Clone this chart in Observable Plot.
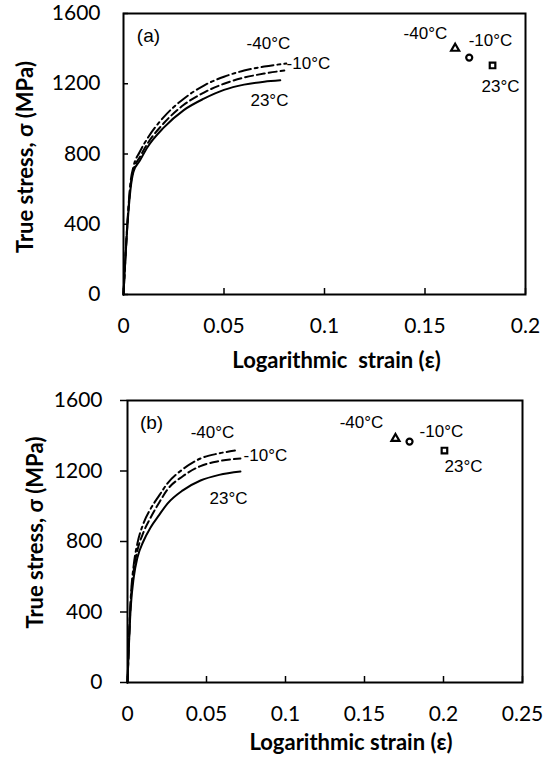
<!DOCTYPE html>
<html>
<head>
<meta charset="utf-8">
<script src="https://cdn.jsdelivr.net/npm/d3@7"></script>
<script src="https://cdn.jsdelivr.net/npm/@observablehq/plot@0.6"></script>
<style>
  html, body { margin: 0; padding: 0; background: #fff; }
  #chart { position: relative; width: 543px; height: 759px; background: #fff; }
  #chart svg { position: absolute; left: 0; overflow: visible; }
</style>
</head>
<body>
<div id="chart"></div>
<script>
// ---------- data ----------
const temps = ["23°C", "-10°C", "-40°C"];

// Panel (a): strain, stress
const curveA23 = [[0,0],[0.002,400],[0.0035,600],[0.005,700],[0.008,760],[0.012,840],[0.02,950],[0.03,1050],[0.04,1115],[0.05,1165],[0.06,1195],[0.07,1212],[0.078,1220]];
const curveA10 = [[0,0],[0.002,410],[0.0035,620],[0.005,710],[0.008,780],[0.012,860],[0.02,975],[0.03,1080],[0.04,1150],[0.05,1200],[0.06,1235],[0.07,1258],[0.08,1275]];
const curveA40 = [[0,0],[0.002,420],[0.0035,640],[0.005,730],[0.008,810],[0.012,890],[0.02,1010],[0.03,1115],[0.04,1190],[0.05,1240],[0.06,1275],[0.07,1298],[0.081,1315]];
const pointsA = [
  {t: "-40°C", x: 0.165, y: 1401, symbol: "triangle"},
  {t: "-10°C", x: 0.172, y: 1349, symbol: "circle"},
  {t: "23°C",  x: 0.1836, y: 1304, symbol: "square"}
];
// annotation anchors (strain, stress)
const curveLabelsA = [
  {t: "-40°C", x: 0.0721, y: 1429},
  {t: "-10°C", x: 0.0920, y: 1315},
  {t: "23°C",  x: 0.0726, y: 1105}
];
const pointLabelsA = [
  {t: "-40°C", x: 0.1502, y: 1486},
  {t: "-10°C", x: 0.1826, y: 1446},
  {t: "23°C",  x: 0.1876, y: 1184}
];
const panelA = {t: "(a)", x: 0.0124, y: 1475};

// Panel (b)
const curveB23 = [[0,0],[0.002,420],[0.004,600],[0.0063,709],[0.01,800],[0.0146,880],[0.02,950],[0.0253,1015],[0.035,1090],[0.0462,1146],[0.058,1178],[0.0715,1197]];
const curveB10 = [[0,0],[0.002,450],[0.004,640],[0.0063,750],[0.01,850],[0.0146,935],[0.02,1020],[0.0253,1095],[0.035,1170],[0.0462,1228],[0.058,1256],[0.0715,1271]];
const curveB40 = [[0,0],[0.002,470],[0.004,670],[0.0063,790],[0.01,900],[0.0146,985],[0.02,1060],[0.0253,1130],[0.035,1210],[0.0462,1271],[0.058,1300],[0.068,1316]];
const pointsB = [
  {t: "-40°C", x: 0.1696, y: 1384, symbol: "triangle"},
  {t: "-10°C", x: 0.1785, y: 1367, symbol: "circle"},
  {t: "23°C",  x: 0.2006, y: 1316, symbol: "square"}
];
const curveLabelsB = [
  {t: "-40°C", x: 0.0538, y: 1418},
  {t: "-10°C", x: 0.0873, y: 1288},
  {t: "23°C",  x: 0.0639, y: 1044}
];
const pointLabelsB = [
  {t: "-40°C", x: 0.1481, y: 1475},
  {t: "-10°C", x: 0.1987, y: 1424},
  {t: "23°C",  x: 0.2127, y: 1226}
];
const panelB = {t: "(b)", x: 0.0152, y: 1475};

// ticks
const xTicksA = [0, 0.05, 0.1, 0.15, 0.2];
const xTicksB = [0, 0.05, 0.1, 0.15, 0.2, 0.25];
const yTicks = [0, 400, 800, 1200, 1600];
const xTitleA = "Logarithmic  strain (ε)";
const xTitleB = "Logarithmic strain (ε)";
const yTitle = "True stress, σ (MPa)";

// ---------- drawing ----------
const tickFont = "Lato, 'Open Sans', sans-serif";
const annFont = "'Liberation Sans', Arial, sans-serif";
const dashes = {"23°C": null, "-10°C": "8,4", "-40°C": "12,4,3,4"};

function toRows(arr, t) { return arr.map(([x, y]) => ({x, y, t})); }

function panel(opts) {
  const {curves, points, curveLabels, pointLabels, tag, xTicks, xMax, xTitle,
         height, mt, mb, ml, mr, yTickSize, yTickPad, xTitleDx, xTitleDy, yTitleDx, yTitleDy} = opts;
  const lines = [];
  curves.forEach((c, i) => {
    lines.push(Plot.line(toRows(c, temps[i]), {
      x: "x", y: "y", stroke: "black", strokeWidth: 2,
      strokeDasharray: dashes[temps[i]], curve: "monotone-x"
    }));
  });
  return Plot.plot({
    width: 543, height,
    marginTop: mt, marginBottom: mb, marginLeft: ml, marginRight: mr,
    x: {domain: [0, xMax]},
    y: {domain: [0, 1600]},
    style: {fontFamily: tickFont, fontSize: "20px", color: "black", background: "white"},
    marks: [
      Plot.axisX(xTicks, {tickSize: -6, tickPadding: 30, strokeWidth: 1.5, tickFormat: d => String(d), label: null, fontSize: 21}),
      Plot.axisY(yTicks, {tickSize: yTickSize, tickPadding: yTickPad, strokeWidth: 1.5, tickFormat: d => String(d), label: null, fontSize: 21}),
      Plot.frame({stroke: "black", strokeWidth: 2}),
      ...lines,
      Plot.dot(points, {x: "x", y: "y", symbol: "symbol", r: d => d.symbol === "triangle" ? 3.5 : (d.symbol === "circle" ? 3.6 : 3.9),
        stroke: "black", strokeWidth: 2.2, fill: "white"}),
      Plot.text(curveLabels, {x: "x", y: "y", text: "t", fontFamily: annFont, fontSize: 17, fill: "black"}),
      Plot.text(pointLabels, {x: "x", y: "y", text: "t", fontFamily: annFont, fontSize: 17, fill: "black"}),
      Plot.text([tag], {x: "x", y: "y", text: "t", fontFamily: annFont, fontSize: 19, fill: "black"}),
      Plot.text([xTitle], {frameAnchor: "bottom", textAnchor: "middle", lineAnchor: "middle", dx: xTitleDx, dy: xTitleDy, fontWeight: "bold", fontSize: 22, fill: "black"}),
      Plot.text([yTitle], {frameAnchor: "left", textAnchor: "middle", lineAnchor: "middle", rotate: -90, dx: yTitleDx, dy: yTitleDy, fontWeight: "bold", fontSize: 22, fill: "black"})
    ]
  });
}

const svgA = panel({
  curves: [curveA23, curveA10, curveA40], points: pointsA,
  curveLabels: curveLabelsA, pointLabels: pointLabelsA, tag: panelA,
  xTicks: xTicksA, xMax: 0.2, xTitle: xTitleA,
  height: 375, mt: 13, mb: 81, ml: 123, mr: 18,
  yTickSize: -5, yTickPad: 28,
  xTitleDx: 12, xTitleDy: 66, yTitleDx: -98, yTitleDy: 3
});
const svgB = panel({
  curves: [curveB23, curveB10, curveB40], points: pointsB,
  curveLabels: curveLabelsB, pointLabels: pointLabelsB, tag: panelB,
  xTicks: xTicksB, xMax: 0.25, xTitle: xTitleB,
  height: 384, mt: 25, mb: 77, ml: 127, mr: 21,
  yTickSize: 7, yTickPad: 18,
  xTitleDx: 26, xTitleDy: 60, yTitleDx: -92, yTitleDy: -9
});
svgA.style.top = "0px";
svgB.style.top = "375px";
document.getElementById("chart").append(svgA, svgB);
</script>
</body>
</html>
